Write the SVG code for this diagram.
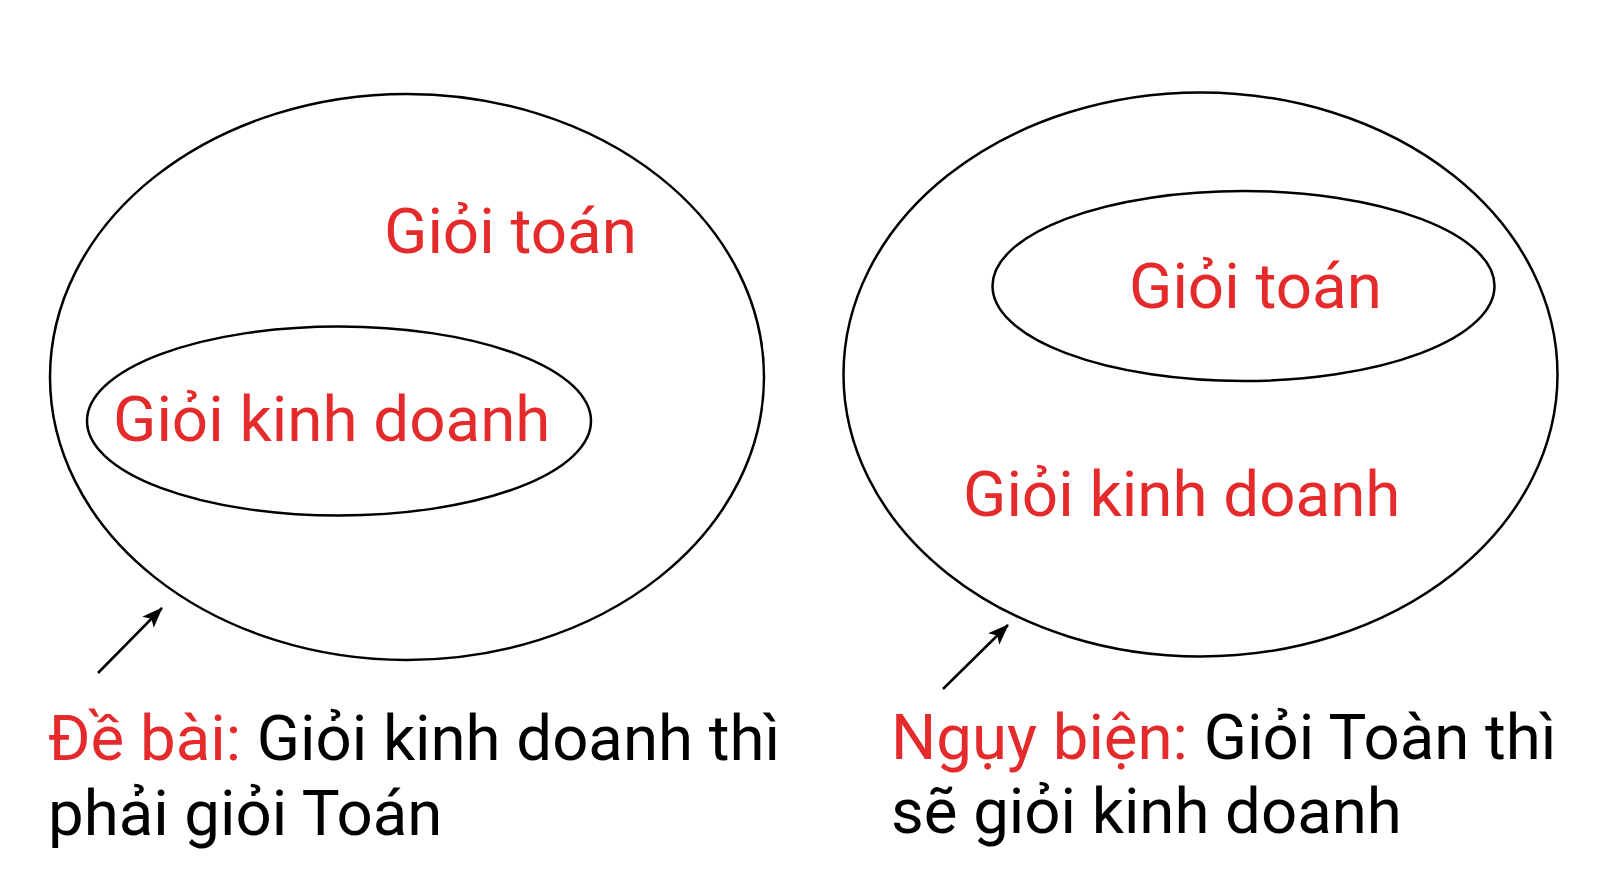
<svg xmlns="http://www.w3.org/2000/svg" width="1600" height="889" viewBox="0 0 1600 889">
<style>
.shape{fill:none;stroke:#000;stroke-width:2.5}
.lbl{font-family:Roboto,"Liberation Sans",sans-serif;font-size:63.7px;fill:#e52a2c}
.cap{font-family:Roboto,"Liberation Sans",sans-serif;font-size:63.5px;fill:#000}
.red{fill:#e52a2c}
.conn{stroke:#000;stroke-width:2.5;fill:none}
</style>
<defs>
<marker id="arr" markerUnits="userSpaceOnUse" markerWidth="22" markerHeight="18" viewBox="0 0 22 18" refX="20" refY="9" orient="auto">
<path d="M0,1 L21,9 L0,17 L5,9 z" fill="#000"/>
</marker>
</defs>
<rect width="1600" height="889" fill="#fff"/>
<g id="left-outer">
<ellipse class="shape" cx="407" cy="377" rx="357" ry="283"/>
<text class="lbl" x="384" y="253">Giỏi toán</text>
</g>
<g id="left-inner">
<ellipse class="shape" cx="339" cy="421" rx="252" ry="94.5"/>
<text class="lbl" x="113" y="441">Giỏi kinh doanh</text>
</g>
<g id="right-outer">
<ellipse class="shape" cx="1200.5" cy="374.5" rx="357" ry="282"/>
<text class="lbl" x="963" y="516">Giỏi kinh doanh</text>
</g>
<g id="right-inner">
<ellipse class="shape" cx="1243.5" cy="286" rx="251" ry="95"/>
<text class="lbl" x="1129" y="308">Giỏi toán</text>
</g>
<g id="connectors">
<line class="conn" x1="98" y1="673" x2="162" y2="608" marker-end="url(#arr)"/>
<line class="conn" x1="943" y1="689" x2="1008" y2="625" marker-end="url(#arr)"/>
</g>
<g id="caption-left">
<text class="cap" x="48" y="760"><tspan class="red">Đề bài:</tspan> Giỏi kinh doanh thì</text>
<text class="cap" x="48" y="835">phải giỏi Toán</text>
</g>
<g id="caption-right">
<text class="cap" x="891" y="759"><tspan class="red">Ngụy biện:</tspan> Giỏi Toàn thì</text>
<text class="cap" x="891" y="833">sẽ giỏi kinh doanh</text>
</g>
</svg>
